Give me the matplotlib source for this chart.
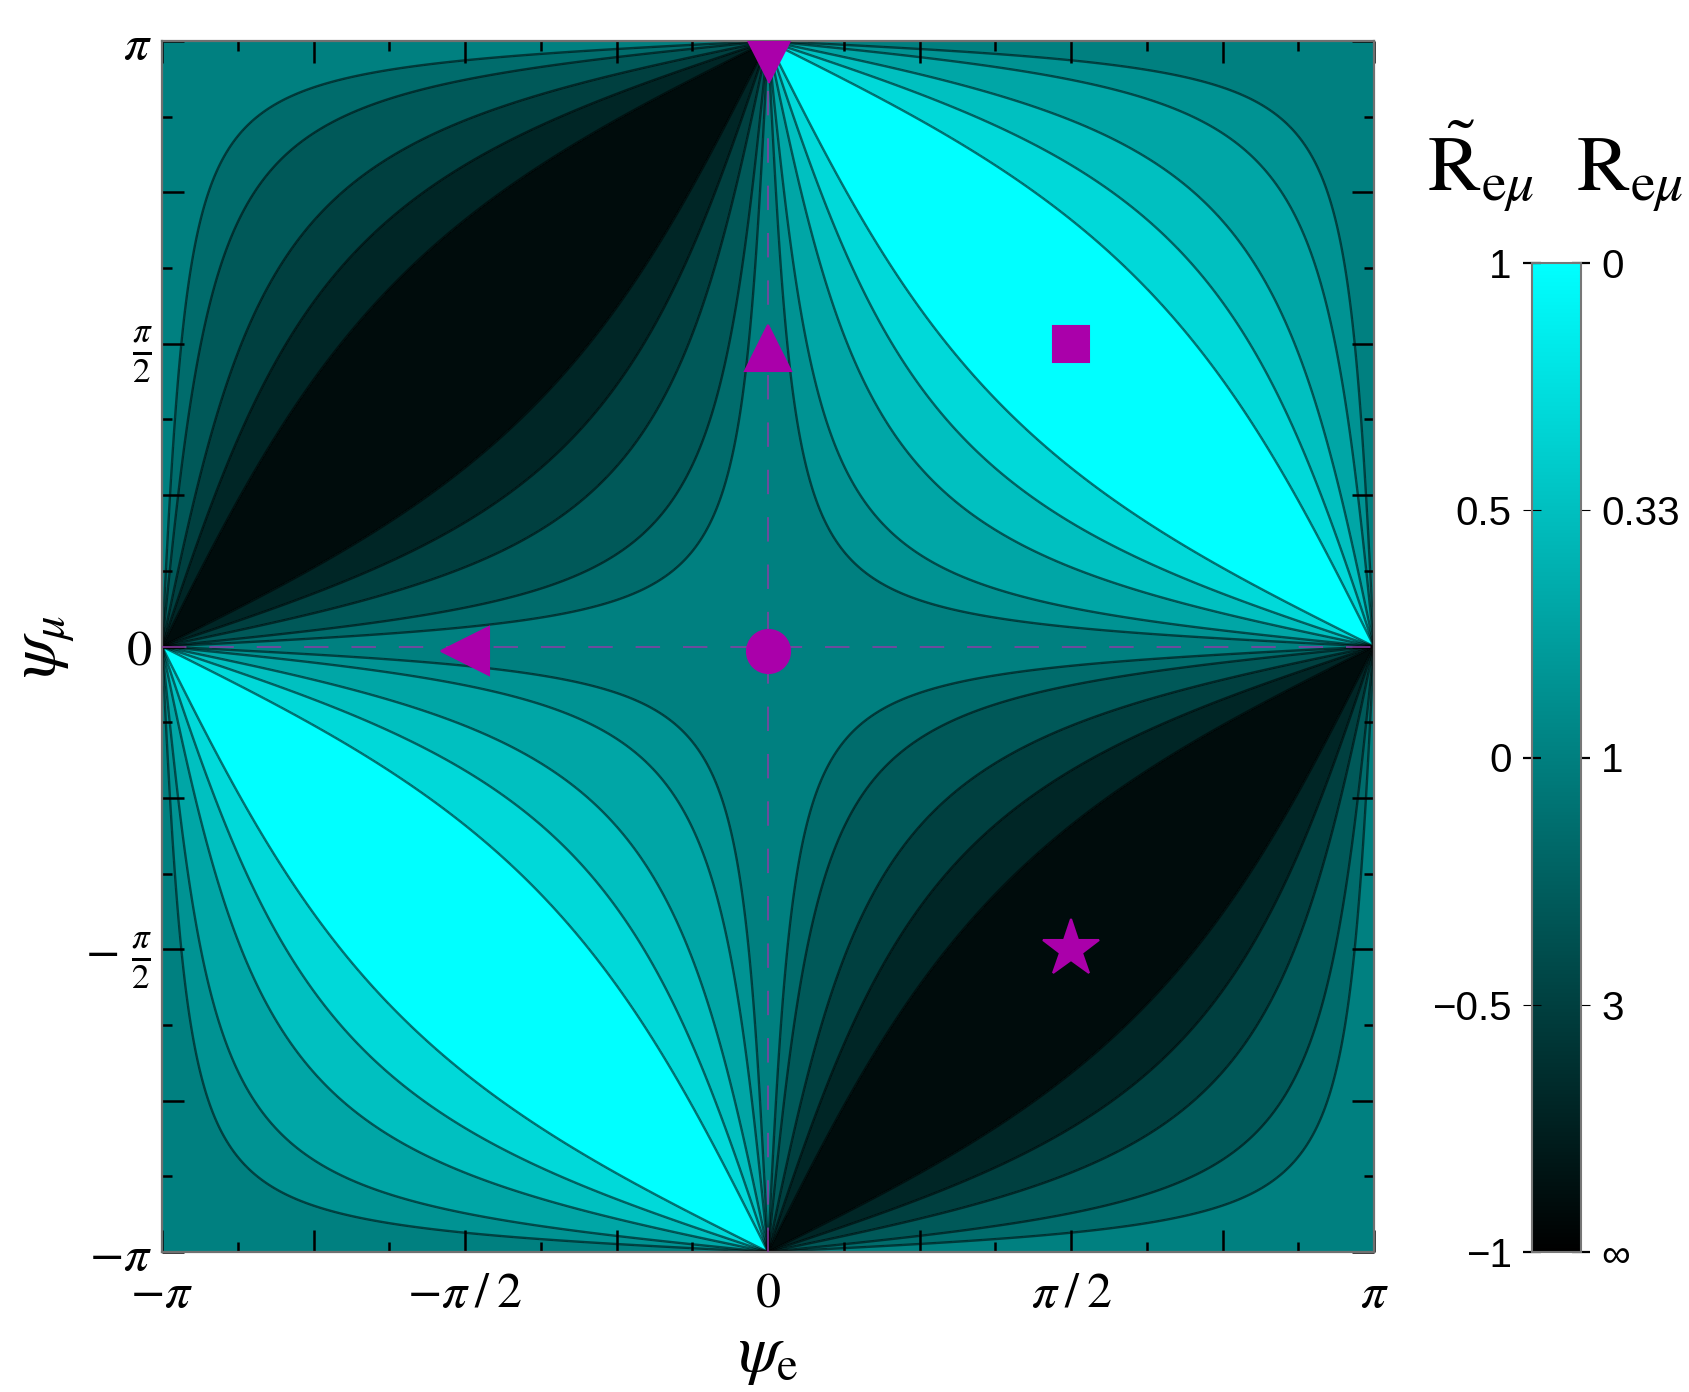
import numpy as np
import matplotlib
matplotlib.use("Agg")
import matplotlib.pyplot as plt
import matplotlib.transforms as mtransforms
from matplotlib.colors import LinearSegmentedColormap, Normalize
from matplotlib.cm import ScalarMappable

plt.rcParams['mathtext.fontset'] = 'stix'
plt.rcParams['font.family'] = ['Liberation Serif', 'DejaVu Serif']

# ---------------- data ----------------
contour_levels = [-1.0, -0.8, -0.6, -0.4, -0.2, -0.1, 0.1, 0.2, 0.4, 0.6, 0.8, 1.0]

cbar_ticks = [-1.0, -0.5, 0.0, 0.5, 1.0]
cbar_left_labels = ['\u22121', '\u22120.5', '0', '0.5', '1']
cbar_right_labels = ['\u221e', '3', '1', '0.33', '0']
cbar_major = [True, False, True, False, True]

tick_pos = np.arange(-4, 5) * np.pi / 4
minor_pos = np.arange(-8, 9) * np.pi / 8
xtick_labels = [r'$-\pi$', '', r'$-\pi\:/\:2$', '', r'$0$', '', r'$\pi\:/\:2$', '', r'$\pi$']
ytick_labels = [r'$-\pi$', '', r'$-\ \frac{\pi}{2}$', '', r'$0$', '', r'$\frac{\pi}{2}$', '', r'$\pi$']

marker_psi_e = [0.0, 0.0, -np.pi / 2, 0.0, np.pi / 2, np.pi / 2]
marker_psi_mu = [np.pi, np.pi / 2, 0.0, 0.0, np.pi / 2, -np.pi / 2]

# field: R~ = 2 t_e t_mu / (1 + t_e^2 t_mu^2), t = tan(psi/2)
psi = np.linspace(-np.pi, np.pi, 1200)
PE, PM = np.meshgrid(psi, psi)
Rt = np.sin(PE) * np.sin(PM) / (1.0 + np.cos(PE) * np.cos(PM))
Rt = np.clip(np.nan_to_num(Rt), -0.99999, 0.99999)

# ---------------- style ----------------
cmap = LinearSegmentedColormap.from_list('blackcyan', ['#000000', '#00ffff'])
norm = Normalize(-1, 1)
band_vals = [(lo + hi) / 2 for lo, hi in zip(contour_levels[:-1], contour_levels[1:])]
band_vals[-1] = contour_levels[-1]
band_colors = [cmap(norm(v)) for v in band_vals]
mcol = '#aa00aa'
dash_col = '#8e3ba6'

W, H = 1689, 1392
fig = plt.figure(figsize=(W / 100, H / 100), dpi=100)
ax = fig.add_axes([162 / W, 140 / H, 1212 / W, 1211 / H])
cax = fig.add_axes([1532 / W, 140 / H, 49 / W, 989 / H])

ax.contourf(PE, PM, Rt, levels=contour_levels, colors=band_colors, antialiased=False)
ax.contour(PE, PM, Rt, levels=contour_levels[1:-1], colors=[(0, 0, 0, 0.55)],
           linewidths=1.7, linestyles='solid')

ax.axhline(0, color=dash_col, lw=1.1, ls=(0, (16, 15)), zorder=3)
ax.axvline(0, color=dash_col, lw=1.1, ls=(0, (16, 15)), zorder=3)

shift = ax.transData + mtransforms.ScaledTranslation(0, -4.5 / 100, fig.dpi_scale_trans)
top_tri = [(-23, 3.5), (23, 3.5), (0, -41.5)]
marker_styles = [
    dict(marker=top_tri, ms=59.8, transform=ax.transData),
    dict(marker='^', ms=33, transform=shift),
    dict(marker='<', ms=34, transform=shift),
    dict(marker='o', ms=31, transform=shift),
    dict(marker='s', ms=26, transform=ax.transData),
    dict(marker='*', ms=43, transform=ax.transData),
]
for xe, ym, st in zip(marker_psi_e, marker_psi_mu, marker_styles):
    ax.plot([xe], [ym], ls='none', color=mcol, mec=mcol, mew=1.5,
            clip_on=True, zorder=6, **st)

ax.set_xlim(-np.pi, np.pi)
ax.set_ylim(-np.pi, np.pi)
ax.set_xticks(tick_pos, xtick_labels)
ax.set_yticks(tick_pos, ytick_labels)
ax.set_xticks(minor_pos, minor=True)
ax.set_yticks(minor_pos, minor=True)
ax.tick_params(which='both', direction='in', top=True, right=True, color='black')
ax.tick_params(which='major', length=16, width=1.8, labelsize=36)
ax.tick_params(which='minor', length=7, width=1.8)
ax.tick_params(axis='x', pad=14)
ax.tick_params(axis='y', pad=7)
for sp in ax.spines.values():
    sp.set_color('#707070')
    sp.set_linewidth(1.6)

ax.set_xlabel(r'$\psi_{\mathrm{e}}$', fontsize=48, labelpad=6)
ax.set_ylabel(r'$\psi_{\mu}$', fontsize=48, labelpad=6)

# ---------------- colorbar ----------------
cb = fig.colorbar(ScalarMappable(norm=norm, cmap=cmap), cax=cax)
cb.outline.set_edgecolor('#777777')
cb.outline.set_linewidth(1.5)
cb.minorticks_off()
maj_t = [t for t, m in zip(cbar_ticks, cbar_major) if m]
min_t = [t for t, m in zip(cbar_ticks, cbar_major) if not m]
maj_l = [l for l, m in zip(cbar_left_labels, cbar_major) if m]
min_l = [l for l, m in zip(cbar_left_labels, cbar_major) if not m]
cax.yaxis.set_ticks_position('left')
cax.yaxis.set_label_position('left')
cax.set_yticks(maj_t, maj_l)
cax.set_yticks(min_t, min_l, minor=True)

sec = cax.secondary_yaxis('right')
maj_r = [l for l, m in zip(cbar_right_labels, cbar_major) if m]
min_r = [l for l, m in zip(cbar_right_labels, cbar_major) if not m]
sec.set_yticks(maj_t, maj_r)
sec.set_yticks(min_t, min_r, minor=True)
sec.spines['right'].set_visible(False)

for a in (cax, sec):
    a.tick_params(which='both', direction='inout', length=13, colors='black', labelsize=29, pad=8)
    a.tick_params(which='major', width=1.6)
    a.tick_params(which='minor', width=0.8)
    for t in a.get_yticklabels(which='both'):
        t.set_fontfamily(['Liberation Sans', 'DejaVu Sans'])

fig.text(1481 / W, 1 - 190 / H, r'$\tilde{\mathrm{R}}_{\mathrm{e}\mu}$',
         ha='center', va='baseline', fontsize=57)
fig.text(1630 / W, 1 - 190 / H, r'$\mathrm{R}_{\mathrm{e}\mu}$',
         ha='center', va='baseline', fontsize=57)

fig.savefig('out.png', dpi=100)
